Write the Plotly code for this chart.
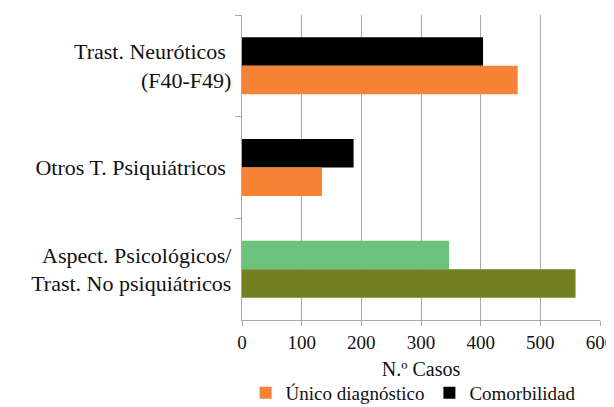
import plotly.graph_objects as go

categories = ["Trast. Neuróticos <br>(F40-F49)",
              "Otros T. Psiquiátricos ",
              "Aspect. Psicológicos/<br>Trast. No psiquiátricos"]
unico = [462, 134, 559]
comorbilidad = [404, 187, 347]
unico_colors = ["#F58235", "#F58235", "#728022"]
comorb_colors = ["#000000", "#000000", "#6CC27C"]

ff = "Liberation Serif, Times New Roman, serif"

fig = go.Figure()
fig.add_trace(go.Bar(y=categories, x=comorbilidad, orientation="h", name="Comorbilidad",
                     marker=dict(color=comorb_colors, line=dict(width=0))))
fig.add_trace(go.Bar(y=categories, x=unico, orientation="h", name="Único diagnóstico",
                     marker=dict(color=unico_colors, line=dict(width=0))))
fig.update_layout(
    width=606, height=399,
    margin=dict(l=234, r=14, t=7, b=87, autoexpand=False),
    paper_bgcolor="white", plot_bgcolor="white",
    barmode="group", bargap=0.44, bargroupgap=0,
    font=dict(family=ff, size=18, color="#111111"),
    xaxis=dict(range=[0, 600], dtick=100, showgrid=True, gridcolor="#A8A8A8", gridwidth=1.3,
               showline=True, linecolor="#A8A8A8", linewidth=1.3,
               ticks="outside", ticklen=5, tickcolor="#A8A8A8", tickwidth=1.3,
               tickfont=dict(family=ff, size=19, color="#111111"),
               ticklabeloverflow="allow",
               title=dict(text="N.º Casos", font=dict(family=ff, size=20, color="#111111"), standoff=10),
               zeroline=False, automargin=False),
    yaxis=dict(showline=True, linecolor="#A8A8A8", linewidth=1.3,
               ticks="outside", ticklen=6, tickcolor="#A8A8A8", tickwidth=1.3,
               tickson="boundaries", tickfont=dict(family=ff, size=22, color="#111111"),
               ticklabelstandoff=5,
               showgrid=False, autorange="reversed", automargin=False),
    legend=dict(orientation="h", x=0.478, xanchor="center", y=-0.239, yanchor="middle",
                font=dict(family=ff, size=19, color="#111111"), traceorder="reversed"),
    showlegend=True,
)
fig.write_html("out.html")
